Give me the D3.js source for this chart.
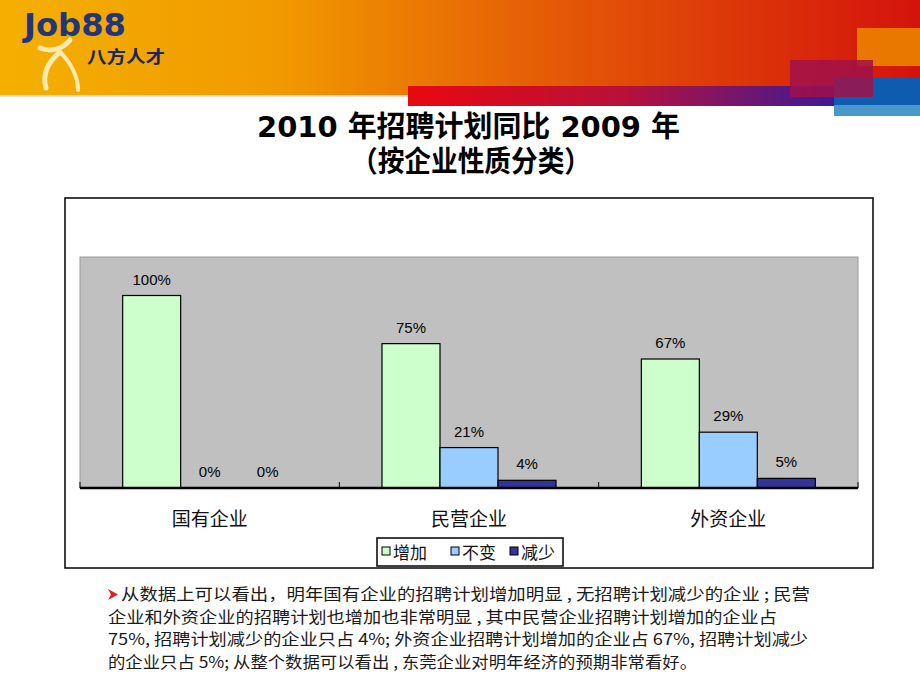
<!DOCTYPE html>
<html>
<head>
<meta charset="utf-8">
<script src="https://d3js.org/d3.v7.min.js"></script>
<style>
  body { margin: 0; background: #fff; }
  svg { display: block; }
</style>
</head>
<body>
<script>
// data
var categories = ["国有企业", "民营企业", "外资企业"];
var seriesNames = ["增加", "不变", "减少"];
var seriesColors = ["#ccffcc", "#99ccff", "#333399"];
var increase = [100, 75, 67];
var unchanged = [0, 21, 29];
var decrease = [0, 4, 5];
var yTicks = [0, 20, 40, 60, 80, 100, 120];
var titleLines = ["2010 年招聘计划同比 2009 年", "（按企业性质分类）"];
var noteLines = [
  "从数据上可以看出，明年国有企业的招聘计划增加明显 , 无招聘计划减少的企业 ; 民营",
  "企业和外资企业的招聘计划也增加也非常明显 , 其中民营企业招聘计划增加的企业占",
  "75%, 招聘计划减少的企业只占 4%; 外资企业招聘计划增加的企业占 67%, 招聘计划减少",
  "的企业只占 5%; 从整个数据可以看出 , 东莞企业对明年经济的预期非常看好。"
];

var values = [increase, unchanged, decrease];
var rows = categories.map(function(c, i){
  return {cat: c, vals: seriesNames.map(function(s, j){ return {s: s, j: j, v: values[j][i]}; })};
});

var W = 920, H = 690;
var svg = d3.select("body").append("svg").attr("width", W).attr("height", H);
var defs = svg.append("defs");

// ---- header banner ----
var g1 = defs.append("linearGradient").attr("id", "ban").attr("x1", 0).attr("x2", 1);
g1.append("stop").attr("offset", "0").attr("stop-color", "#f4b000");
g1.append("stop").attr("offset", "0.3").attr("stop-color", "#f19a00");
g1.append("stop").attr("offset", "0.6").attr("stop-color", "#e45a06");
g1.append("stop").attr("offset", "1").attr("stop-color", "#d4130c");
var g2 = defs.append("linearGradient").attr("id", "strip").attr("x1", 0).attr("x2", 1);
g2.append("stop").attr("offset", "0").attr("stop-color", "#e80810");
g2.append("stop").attr("offset", "0.5").attr("stop-color", "#b8103a");
g2.append("stop").attr("offset", "1").attr("stop-color", "#3a1a98");

svg.append("rect").attr("x", 0).attr("y", 0).attr("width", W).attr("height", 97).attr("fill", "#e8e0d8");
svg.append("rect").attr("x", 0).attr("y", 0).attr("width", W).attr("height", 95).attr("fill", "url(#ban)");
svg.append("rect").attr("x", 408).attr("y", 86).attr("width", 430).attr("height", 20).attr("fill", "url(#strip)");
svg.append("rect").attr("x", 834).attr("y", 78).attr("width", 86).attr("height", 28).attr("fill", "#0e5cb0");
svg.append("rect").attr("x", 834).attr("y", 105).attr("width", 86).attr("height", 11).attr("fill", "#4a98c8");
svg.append("rect").attr("x", 857).attr("y", 28).attr("width", 63).attr("height", 38).attr("fill", "#e87800");
svg.append("rect").attr("x", 790).attr("y", 60).attr("width", 83).attr("height", 37).attr("fill", "#a0104a").attr("opacity", 0.85);

// logo figure
var fig = svg.append("g").attr("fill", "none").attr("stroke", "#fbe9b0").attr("stroke-linecap", "round");
fig.append("path").attr("d", "M40,48 C50,52 62,50 70,40").attr("stroke-width", 5);
fig.append("path").attr("d", "M60,52 C48,62 42,74 46,88").attr("stroke-width", 5);
fig.append("path").attr("d", "M60,52 C70,62 78,76 78,90").attr("stroke-width", 4);
svg.append("text").attr("x", 24).attr("y", 36).attr("textLength", 102).attr("lengthAdjust", "spacingAndGlyphs")
  .style("font-family", "'DejaVu Sans', sans-serif").style("font-weight", "bold").style("font-size", "32px")
  .attr("fill", "#22357a").text("Job88");
svg.append("text").attr("x", 87).attr("y", 63).attr("textLength", 78).attr("lengthAdjust", "spacingAndGlyphs")
  .style("font-family", "'Noto Sans CJK SC'").style("font-weight", "bold").style("font-size", "17px")
  .attr("fill", "#1a2660").text("八方人才");

// ---- title ----
var titleX = [257, 351], titleY = [137, 172], titleLen = [423, 240];
svg.selectAll(".title").data(titleLines).enter().append("text")
  .attr("x", function(d, i){ return titleX[i]; })
  .attr("y", function(d, i){ return titleY[i]; })
  .attr("textLength", function(d, i){ return titleLen[i]; })
  .attr("lengthAdjust", "spacingAndGlyphs")
  .style("font-family", "'DejaVu Sans', 'Noto Sans CJK SC', sans-serif").style("font-weight", "bold").style("font-size", "29px")
  .attr("fill", "#000").text(function(d){ return d; });

// ---- chart frame ----
svg.append("rect").attr("x", 65).attr("y", 198).attr("width", 808).attr("height", 370)
  .attr("fill", "#fff").attr("stroke", "#000").attr("stroke-width", 1.5);

var plot = {left: 80, right: 858, top: 257, bottom: 488};
svg.append("rect").attr("x", plot.left).attr("y", plot.top)
  .attr("width", plot.right - plot.left).attr("height", plot.bottom - plot.top)
  .attr("fill", "#c0c0c0").attr("stroke", "#9a9a9a").attr("stroke-width", 1);

var x0 = d3.scaleBand().domain(categories).range([plot.left, plot.right]).padding(0);
var groupW = 174;
var x1 = d3.scaleBand().domain(seriesNames).range([0, groupW]).padding(0);
var y = d3.scaleLinear().domain([0, d3.max(yTicks)]).range([plot.bottom, plot.top]);

var groups = svg.selectAll(".grp").data(rows).enter().append("g")
  .attr("transform", function(d){ return "translate(" + (x0(d.cat) + (x0.bandwidth() - groupW) / 2) + ",0)"; });

groups.selectAll("rect").data(function(d){ return d.vals.filter(function(e){ return e.v > 0; }); })
  .enter().append("rect")
  .attr("x", function(d){ return x1(d.s); })
  .attr("y", function(d){ return y(d.v); })
  .attr("width", x1.bandwidth())
  .attr("height", function(d){ return y(0) - y(d.v); })
  .attr("fill", function(d){ return seriesColors[d.j]; })
  .attr("stroke", "#000").attr("stroke-width", 1.2);

groups.selectAll(".lbl").data(function(d){ return d.vals; }).enter().append("text")
  .attr("x", function(d){ return x1(d.s) + x1.bandwidth() / 2; })
  .attr("y", function(d){ return y(d.v) - 11; })
  .attr("text-anchor", "middle")
  .style("font-family", "'Liberation Sans', Arial, sans-serif").style("font-size", "15px")
  .attr("fill", "#000").text(function(d){ return d.v + "%"; });

// x axis
var xAxis = svg.append("g").attr("transform", "translate(0," + plot.bottom + ")");
xAxis.append("line").attr("x1", plot.left).attr("x2", plot.right).attr("stroke", "#000").attr("stroke-width", 2.5);
var edges = categories.map(function(c){ return x0(c); }).concat([plot.right]);
xAxis.selectAll(".tk").data(edges).enter().append("line")
  .attr("x1", function(d){ return d; }).attr("x2", function(d){ return d; })
  .attr("y1", 0).attr("y2", -6).attr("stroke", "#000").attr("stroke-width", 1);
xAxis.selectAll(".cl").data(categories).enter().append("text")
  .attr("x", function(d){ return x0(d) + x0.bandwidth() / 2; })
  .attr("y", 38).attr("text-anchor", "middle")
  .style("font-family", "'Noto Sans CJK SC', serif").style("font-size", "19px")
  .attr("fill", "#111").text(function(d){ return d; });

// legend
var leg = svg.append("g").attr("transform", "translate(377,538)");
leg.append("rect").attr("width", 186).attr("height", 28).attr("fill", "#fff").attr("stroke", "#000").attr("stroke-width", 1.5);
var legX = [5, 74, 133];
seriesNames.forEach(function(s, i){
  leg.append("rect").attr("x", legX[i]).attr("y", 9).attr("width", 8).attr("height", 8)
    .attr("fill", seriesColors[i]).attr("stroke", "#000").attr("stroke-width", 1);
  leg.append("text").attr("x", legX[i] + 11).attr("y", 21)
    .style("font-family", "'Noto Sans CJK SC', serif").style("font-size", "17px")
    .attr("fill", "#111").text(s);
});

// ---- note text ----
svg.append("path").attr("d", "M108,589 L118,594.5 L108,600 L111,594.5 Z").attr("fill", "#e02020");
var noteX = [121, 108, 108, 108];
var noteLen = [689, 669, 700, 589];
svg.selectAll(".note").data(noteLines).enter().append("text")
  .attr("x", function(d, i){ return noteX[i]; })
  .attr("y", function(d, i){ return 600 + i * 22.7; })
  .attr("textLength", function(d, i){ return noteLen[i]; })
  .attr("lengthAdjust", "spacingAndGlyphs")
  .style("font-family", "'Noto Sans CJK SC', sans-serif").style("font-size", "16px")
  .attr("fill", "#1a1a1a").text(function(d){ return d; });
</script>
</body>
</html>
